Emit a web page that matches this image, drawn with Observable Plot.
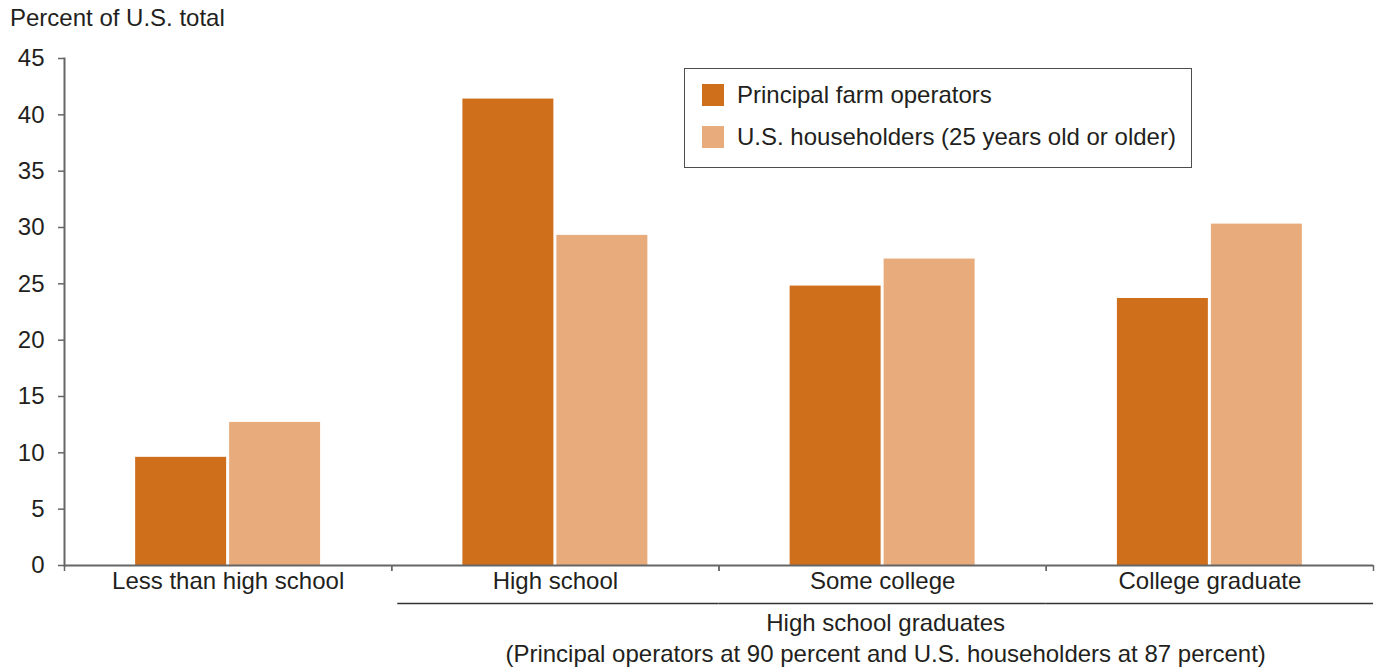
<!DOCTYPE html>
<html>
<head>
<meta charset="utf-8">
<script src="https://cdn.jsdelivr.net/npm/d3@7"></script>
<script src="https://cdn.jsdelivr.net/npm/@observablehq/plot@0.6"></script>
<style>
  html, body { margin: 0; padding: 0; background: #fff; }
  body { font-family: "Liberation Sans", Arial, Helvetica, sans-serif; color: #231f20; }
  #wrap { position: relative; width: 1379px; height: 668px; }
  #title { position: absolute; left: 10px; top: 4px; font-size: 24px; line-height: 28px; }
  #chart { position: absolute; left: 0; top: 35px; }
  #legend { position: absolute; left: 684px; top: 68px; width: 506px; height: 98px;
            border: 1px solid #4d4d4d; background: #fff; }
  .item { position: absolute; left: 17px; height: 22px; display: flex; align-items: center;
          font-size: 24px; white-space: nowrap; }
  .sw { width: 22px; height: 22px; margin-right: 13px; flex: none; }
</style>
</head>
<body>
<div id="wrap">
  <div id="title">Percent of U.S. total</div>
  <div id="chart"></div>
  <div id="legend"></div>
</div>
<script>
const categories = ["Less than high school", "High school", "Some college", "College graduate"];
const seriesNames = ["Principal farm operators", "U.S. householders (25 years old or older)"];
const farmOperators = [9.6, 41.4, 24.8, 23.7];
const householders = [12.7, 29.3, 27.2, 30.3];
const seriesColors = ["#cf6f1c", "#e8ac7c"];
const yTicks = [0, 5, 10, 15, 20, 25, 30, 35, 40, 45];
const gradCategories = ["High school", "Some college", "College graduate"];
const bracketText = "High school graduates\n(Principal operators at 90 percent and U.S. householders at 87 percent)";

const rows = [];
categories.forEach((c, i) => {
  rows.push({cat: c, series: seriesNames[0], value: farmOperators[i]});
  rows.push({cat: c, series: seriesNames[1], value: householders[i]});
});

const W = 1379, H = 633, mL = 64, mR = 6, mT = 23, mB = 103;
const bw = (W - mL - mR) / categories.length;
const axisGray = "#666";
const font = "Liberation Sans, Arial, Helvetica, sans-serif";

const chart = Plot.plot({
  width: W, height: H,
  marginLeft: mL, marginRight: mR, marginTop: mT, marginBottom: mB,
  style: {fontFamily: font, fontSize: "24px", color: "#231f20", background: "#fff"},
  fx: {domain: categories, padding: 0, round: false},
  x: {domain: seriesNames, paddingInner: 0.032, paddingOuter: 0.757, round: false, axis: null},
  y: {domain: [0, 45], nice: false},
  color: {domain: seriesNames, range: seriesColors},
  marks: [
    Plot.barY(rows, {fx: "cat", x: "series", y: "value", fill: "series"}),
    Plot.ruleY([0], {stroke: axisGray, strokeWidth: 2}),
    Plot.frame({anchor: "left", facetAnchor: "left", stroke: axisGray, strokeWidth: 2}),
    Plot.axisY({ticks: yTicks, tickSize: 6, tickPadding: 14, fontSize: 24, label: null,
                stroke: axisGray, strokeWidth: 1.5, fill: "#231f20"}),
    Plot.axisFx({anchor: "bottom", tickSize: 0, tickPadding: 6, fontSize: 24, label: null, fill: "#231f20"}),
    Plot.axisFx({anchor: "bottom", tickSize: 6, tickFormat: () => "", label: null,
                 stroke: axisGray, strokeWidth: 1.5, dx: -bw / 2}),
    Plot.axisFx({anchor: "bottom", tickSize: 6, tickFormat: () => "", label: null,
                 stroke: axisGray, strokeWidth: 1.5, dx: bw / 2}),
    Plot.ruleY(gradCategories.slice(0, 1), {fx: d => d, y: d => 0, dy: 38, insetLeft: 6,
               stroke: "#333", strokeWidth: 1.5}),
    Plot.ruleY(gradCategories.slice(1), {fx: d => d, y: d => 0, dy: 38,
               stroke: "#333", strokeWidth: 1.5}),
    Plot.text([gradCategories[1]], {fx: d => d, text: () => bracketText, frameAnchor: "bottom",
               lineAnchor: "top", dy: 44, dx: 3, fontSize: 24, lineHeight: 1.29, fill: "#231f20"})
  ]
});
document.getElementById("chart").appendChild(chart);

const legend = document.getElementById("legend");
seriesNames.forEach((name, i) => {
  const item = document.createElement("div");
  item.className = "item";
  item.style.top = (15 + i * 42) + "px";
  const sw = document.createElement("div");
  sw.className = "sw";
  sw.style.background = seriesColors[i];
  const label = document.createElement("span");
  label.textContent = name;
  item.appendChild(sw);
  item.appendChild(label);
  legend.appendChild(item);
});
</script>
</body>
</html>
